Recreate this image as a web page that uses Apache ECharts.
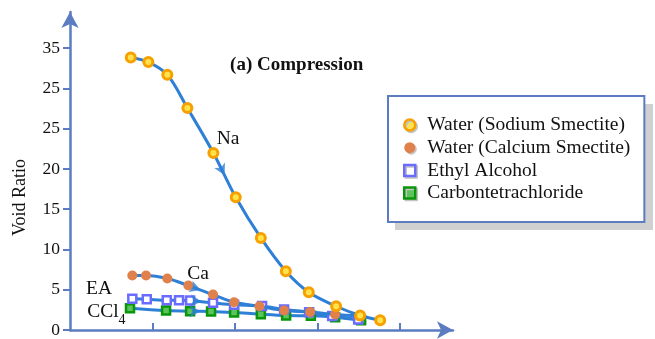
<!DOCTYPE html>
<html><head><meta charset="utf-8">
<script src="https://cdn.jsdelivr.net/npm/echarts@6/dist/echarts.min.js"></script>
<style>html,body{margin:0;padding:0;background:#fff}#c{width:655px;height:339px}</style>
</head><body><div id="c"></div>
<script>
// ---- data ----
const yTickValues = [0, 5, 10, 15, 20, 25, 30, 35];
const yTickLabels = ['0', '5', '10', '15', '20', '25', '25', '35'];
const xTickValues = [1, 2, 3, 4];
const seriesNames = ['Water (Sodium Smectite)', 'Water (Calcium Smectite)', 'Ethyl Alcohol', 'Carbontetrachloride'];
const naX = [0.736, 0.949, 1.179, 1.422, 1.737, 2.008, 2.312, 2.615, 2.893, 3.224, 3.515, 3.758];
const naY = [33.85, 33.28, 31.70, 27.57, 21.99, 16.48, 11.44, 7.30, 4.68, 2.95, 1.80, 1.22];
const caX = [0.755, 0.921, 1.179, 1.434, 1.733, 1.988, 2.295, 2.594, 2.909, 3.212, 3.503];
const caY = [6.76, 6.76, 6.39, 5.52, 4.40, 3.45, 2.95, 2.42, 2.23, 1.92, 1.75];
const eaX = [0.755, 0.930, 1.172, 1.321, 1.455, 1.733, 1.988, 2.327, 2.594, 2.897, 3.176, 3.491];
const eaY = [3.87, 3.82, 3.70, 3.70, 3.66, 3.37, 3.13, 2.98, 2.54, 2.21, 1.74, 1.30];
const ccX = [0.727, 1.164, 1.455, 1.709, 1.988, 2.312, 2.618, 2.918, 3.212, 3.527];
const ccY = [2.70, 2.42, 2.33, 2.30, 2.17, 1.96, 1.80, 1.76, 1.59, 1.22];
const arrowSeg = [4, 3, 4, 2]; // segment index where a direction arrow sits
const curveLabels = ['Na', 'Ca', 'EA', 'CCl'];

// ---- styling ----
const AX = '#5b7cc0', LINE = '#2e7fd6';
const FONT = "'Liberation Serif','Times New Roman',serif";
const zip = (xs, ys) => xs.map((x, i) => [x, ys[i]]);
const sets = [zip(naX, naY), zip(caX, caY), zip(eaX, eaY), zip(ccX, ccY)];
const symStyles = [
  { symbol: 'circle', symbolSize: 9, itemStyle: { color: '#ffe34d', borderColor: '#f7a000', borderWidth: 3 } },
  { symbol: 'circle', symbolSize: 10, itemStyle: { color: '#e0804a', borderWidth: 0 } },
  { symbol: 'rect', symbolSize: 8, itemStyle: { color: '#ffffff', borderColor: '#6b6bff', borderWidth: 2.5 } },
  { symbol: 'rect', symbolSize: 8, itemStyle: { color: '#5cc45c', borderColor: '#0a960a', borderWidth: 2.5 } }
];
const legendIconStyles = [
  { color: '#ffe34d', borderColor: '#f7a000', borderWidth: 2.5 },
  { color: '#e0804a', borderWidth: 0 },
  { color: '#ffffff', borderColor: '#6b6bff', borderWidth: 2.5 },
  { color: '#5cc45c', borderColor: '#0a960a', borderWidth: 2.5 }
];

const chart = echarts.init(document.getElementById('c'), null, { renderer: 'canvas' });

const lineSeries = sets.map((d, i) => Object.assign({
  name: seriesNames[i], type: 'line', data: d, smooth: 0.35,
  lineStyle: { color: LINE, width: 3 }, z: 3 + (3 - i), animation: false
}, symStyles[i]));

const base = {
  animation: false,
  grid: { left: 70, right: 202, top: 12, bottom: 8.5 },
  xAxis: {
    type: 'value', min: 0, max: 4.64, interval: 1,
    axisLine: { lineStyle: { color: AX, width: 2.5 }, symbol: ['none', 'arrow'], symbolSize: [13, 16] },
    axisTick: { inside: true, length: 7, lineStyle: { color: AX, width: 2 }, customValues: xTickValues },
    axisLabel: { show: false }, splitLine: { show: false }
  },
  yAxis: {
    type: 'value', min: 0, max: 39.5, interval: 5,
    axisLine: { show: true, lineStyle: { color: AX, width: 2.5 }, symbol: ['none', 'arrow'], symbolSize: [13, 16] },
    axisTick: { show: true, length: 7, lineStyle: { color: AX, width: 2 }, customValues: yTickValues },
    axisLabel: {
      customValues: yTickValues, color: '#111', fontFamily: FONT, fontSize: 17.5, margin: 10,
      formatter: v => { const k = yTickValues.indexOf(v); return k >= 0 ? yTickLabels[k] : ''; }
    },
    splitLine: { show: false }
  },
  legend: {
    orient: 'vertical', left: 388, top: 96, z: 5,
    padding: [19, 14, 19, 15], itemGap: 2.7, itemWidth: 11, itemHeight: 11,
    backgroundColor: '#fff', borderColor: AX, borderWidth: 2,
    textStyle: { fontFamily: FONT, fontSize: 19.5, color: '#111', lineHeight: 20, padding: [0, 0, 0, 7] },
    data: seriesNames.map((n, i) => ({
      name: n, icon: symStyles[i].symbol,
      itemStyle: Object.assign({}, legendIconStyles[i], { shadowColor: '#c4c4c4', shadowOffsetX: 1.5, shadowOffsetY: 1.5, shadowBlur: 0 })
    }))
  },
  graphic: [
    { type: 'rect', z: 1, shape: { x: 395, y: 104, width: 258, height: 126 }, style: { fill: '#d0d0d0' } },
    { type: 'text', x: 296.7, y: 65, style: { text: '(a) Compression', font: "bold 19px 'Liberation Serif','Times New Roman',serif", fill: '#111', align: 'center', verticalAlign: 'middle' } },
    { type: 'text', x: 20.7, y: 197.5, rotation: Math.PI / 2, style: { text: 'Void Ratio', font: "18px 'Liberation Serif','Times New Roman',serif", fill: '#111', align: 'center', verticalAlign: 'middle' } },
    { type: 'text', x: 228, y: 139, style: { text: curveLabels[0], font: "19.5px 'Liberation Serif',serif", fill: '#111', align: 'center', verticalAlign: 'middle' } },
    { type: 'text', x: 198, y: 274, style: { text: curveLabels[1], font: "19.5px 'Liberation Serif',serif", fill: '#111', align: 'center', verticalAlign: 'middle' } },
    { type: 'text', x: 99, y: 289, style: { text: curveLabels[2], font: "19.5px 'Liberation Serif',serif", fill: '#111', align: 'center', verticalAlign: 'middle' } },
    { type: 'text', x: 87.3, y: 311.7, style: { text: curveLabels[3], font: "19.5px 'Liberation Serif',serif", fill: '#111', align: 'left', verticalAlign: 'middle' } },
    { type: 'text', x: 118.5, y: 320, style: { text: '4', font: "14px 'Liberation Serif',serif", fill: '#111', align: 'left', verticalAlign: 'middle' } }
  ],
  series: lineSeries
};
chart.setOption(base);

// direction arrows placed at the middle of a chosen segment of each curve
const arrowData = sets.map((d, i) => {
  const a = d[arrowSeg[i]], b = d[arrowSeg[i] + 1];
  const pa = chart.convertToPixel({ gridIndex: 0 }, a), pb = chart.convertToPixel({ gridIndex: 0 }, b);
  const ang = Math.atan2(-(pb[0] - pa[0]), -(pb[1] - pa[1])) * 180 / Math.PI;
  return { value: [(a[0] + b[0]) / 2, (a[1] + b[1]) / 2], symbolRotate: ang };
});
chart.setOption({
  series: lineSeries.concat([{
    type: 'scatter', data: arrowData, symbol: 'arrow', symbolSize: [9, 11],
    itemStyle: { color: LINE }, z: 10, silent: true, animation: false
  }])
});
</script></body></html>
